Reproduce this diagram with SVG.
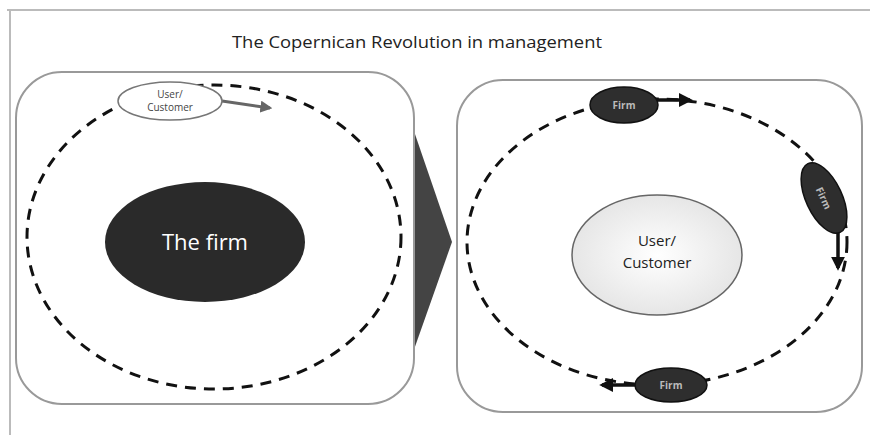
<svg xmlns="http://www.w3.org/2000/svg" width="870" height="435" viewBox="0 0 870 435">
<defs>
<style>
.frame{fill:none;stroke:#bbbbbb;stroke-width:2}
.box{fill:#ffffff;stroke:#999999;stroke-width:2}
.orbit{fill:none;stroke:#111111;stroke-width:3;stroke-dasharray:11 8}
.dark{fill:#2e2e2e;stroke:#111111;stroke-width:1.5}
.t{font-family:"Open Sans","Liberation Sans",sans-serif;text-anchor:middle}
.small{font-size:10px;fill:#444444}
.firm{font-size:10px;fill:#bbbbbb;font-weight:bold}
</style>
<marker id="ah" viewBox="0 0 10 10" refX="8" refY="5" markerWidth="4" markerHeight="4" orient="auto" markerUnits="strokeWidth"><path d="M0,0 L10,5 L0,10 z" fill="#111"/></marker>
<marker id="ahg" viewBox="0 0 10 10" refX="8" refY="5" markerWidth="4" markerHeight="4" orient="auto" markerUnits="strokeWidth"><path d="M0,0 L10,5 L0,10 z" fill="#666"/></marker>
<radialGradient id="ug" cx="0.5" cy="0.5" r="0.5"><stop offset="0" stop-color="#ffffff"/><stop offset="1" stop-color="#e6e6e6"/></radialGradient>
</defs>
<path class="frame" d="M7,10 H870 M10,10 V435"/>
<text class="t" x="417" y="48" font-size="17" fill="#222" textLength="370" lengthAdjust="spacingAndGlyphs">The Copernican Revolution in management</text>
<polygon id="shift-arrow" points="405,105 452,242 405,375" fill="#444444"/>
<g id="left-panel">
<rect class="box" x="16" y="72" width="398" height="332" rx="46" ry="46"/>
</g>
<g id="right-panel">
<rect class="box" x="457" y="80" width="405" height="332" rx="46" ry="46"/>
</g>
<g id="connectors">
<ellipse class="orbit" cx="214" cy="237" rx="187" ry="152"/>
<ellipse class="orbit" cx="657" cy="242" rx="190" ry="143"/>
<line x1="222" y1="101" x2="270" y2="108" stroke="#666" stroke-width="3" marker-end="url(#ahg)"/>
<line x1="657" y1="100" x2="690" y2="100" stroke="#111" stroke-width="3.5" marker-end="url(#ah)"/>
<line x1="838" y1="230" x2="838" y2="268" stroke="#111" stroke-width="3.5" marker-end="url(#ah)"/>
<line x1="636" y1="385" x2="602" y2="385" stroke="#111" stroke-width="3.5" marker-end="url(#ah)"/>
</g>
<g id="the-firm">
<ellipse cx="205" cy="242" rx="100" ry="60" fill="#2a2a2a"/>
<text class="t" x="205" y="250" font-size="22" fill="#ffffff">The firm</text>
</g>
<g id="user-customer-small">
<ellipse cx="170" cy="101" rx="52" ry="19" fill="#ffffff" stroke="#777" stroke-width="1.5"/>
<text class="t small" x="170" y="98">User/</text>
<text class="t small" x="170" y="111">Customer</text>
</g>
<g id="user-customer">
<ellipse cx="657" cy="255" rx="85" ry="60" fill="url(#ug)" stroke="#666" stroke-width="1.5"/>
<text class="t" x="657" y="246" font-size="15" fill="#222">User/</text>
<text class="t" x="657" y="268" font-size="15" fill="#222">Customer</text>
</g>
<g id="firm-top">
<ellipse class="dark" cx="624" cy="105" rx="34" ry="18"/>
<text class="t firm" x="624" y="109">Firm</text>
</g>
<g id="firm-right" transform="translate(824,198) rotate(65)">
<ellipse class="dark" cx="0" cy="0" rx="38" ry="18"/>
<text class="t firm" x="0" y="4">Firm</text>
</g>
<g id="firm-bottom">
<ellipse class="dark" cx="671" cy="385" rx="36" ry="17"/>
<text class="t firm" x="671" y="389">Firm</text>
</g>
</svg>
